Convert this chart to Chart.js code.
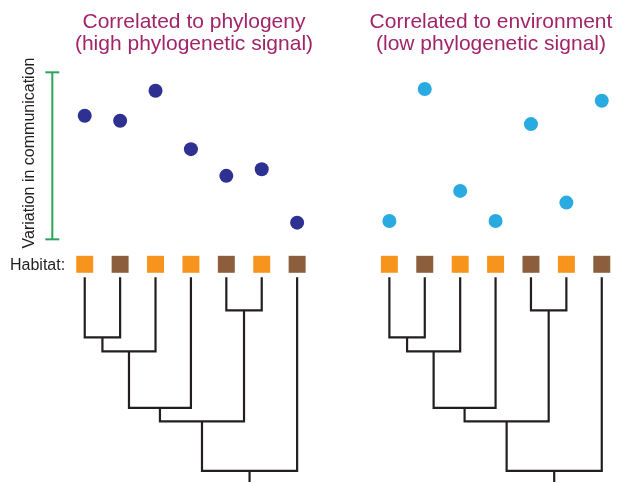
<!DOCTYPE html>
<html>
<head>
<meta charset="utf-8">
<script src="https://cdn.jsdelivr.net/npm/chart.js@4"></script>
<style>
  body { margin: 0; background: #fff; }
  #wrap { position: relative; width: 620px; height: 482px; font-family: 'Liberation Sans', Arial, sans-serif; }
  #wrap canvas { position: absolute; left: 0; top: 0; }
  .title { position: absolute; top: 10px; width: 300px; text-align: center; font-size: 21px; line-height: 22px; color: #a12468; }
  .label { position: absolute; font-size: 16px; line-height: 16px; color: #231f20; white-space: nowrap; }
  #yLabel { left: 29px; top: 153px; transform: translate(-50%, -50%) rotate(-90deg); }
</style>
</head>
<body>
<div id="wrap">
  <canvas id="myChart" width="620" height="482"></canvas>
  <div class="title" style="left:44px">Correlated to phylogeny<br>(high phylogenetic signal)</div>
  <div class="title" style="left:341px">Correlated to environment<br>(low phylogenetic signal)</div>
  <div class="label" id="yLabel">Variation in communication</div>
  <div class="label" style="left:10px; top:257px">Habitat:</div>
</div>
<script>
// tips of the tree, left to right
const species = ['sp1', 'sp2', 'sp3', 'sp4', 'sp5', 'sp6', 'sp7'];
const habitat = ['A', 'B', 'A', 'A', 'B', 'A', 'B'];

// communication trait per species
const highSignal = [7.4, 7.1, 8.9, 5.4, 3.8, 4.2, 1.0];
const lowSignal = [1.1, 9.0, 2.9, 1.1, 6.9, 2.2, 8.3];
const communicationRange = [0, 10];

// internal nodes: children (tip index or node name) and depth below the tips
const nodeNames = ['n1', 'n2', 'n3', 'n4', 'n5', 'root'];
const nodeChildren = [[0, 1], ['n1', 2], ['n2', 3], [4, 5], ['n3', 'n4'], ['n5', 6]];
const nodeDepth = [6.0, 7.4, 13.05, 3.3, 14.4, 19.35];
const rootStemEnd = 21;

// layout / styles
const habitatColors = { A: '#f7941d', B: '#8c5e3c' };
const panels = [
  { offset: 0, values: highSignal, color: '#2e3192' },
  { offset: 8.606, values: lowSignal, color: '#29abe2' }
];
const habitatRow = -1.3;
const rangeBarX = -0.916;
const treeColor = '#231f20';

// node positions from the topology
const nodeX = {};
const nodeD = {};
function childX(c) { return typeof c === 'number' ? c : nodeX[c]; }
function childD(c) { return typeof c === 'number' ? 0 : nodeD[c]; }
nodeNames.forEach((name, i) => {
  const [a, b] = nodeChildren[i];
  nodeX[name] = (childX(a) + childX(b)) / 2;
  nodeD[name] = nodeDepth[i];
});

const datasets = [];

panels.forEach(panel => {
  const off = panel.offset;

  // trait values
  datasets.push({
    data: panel.values.map((v, i) => ({ x: i + off, y: v })),
    yAxisID: 'y',
    pointRadius: 7,
    pointBorderWidth: 0,
    pointBackgroundColor: panel.color,
    borderColor: panel.color
  });

  // habitat squares
  datasets.push({
    data: species.map((s, i) => ({ x: i + off, y: habitatRow })),
    yAxisID: 'tree',
    pointStyle: 'rect',
    pointRadius: 12,
    pointBorderWidth: 0,
    pointBackgroundColor: habitat.map(h => habitatColors[h])
  });

  // tree branches
  nodeNames.forEach((name, i) => {
    const [a, b] = nodeChildren[i];
    const d = nodeD[name];
    datasets.push({
      data: [
        { x: childX(a) + off, y: childD(a) },
        { x: childX(a) + off, y: d },
        { x: childX(b) + off, y: d },
        { x: childX(b) + off, y: childD(b) }
      ],
      yAxisID: 'tree',
      showLine: true,
      borderColor: treeColor,
      borderWidth: 2.2,
      borderJoinStyle: 'miter',
      pointRadius: 0
    });
  });

  datasets.push({
    data: [
      { x: nodeX.root + off, y: nodeD.root },
      { x: nodeX.root + off, y: rootStemEnd }
    ],
    yAxisID: 'tree',
    showLine: true,
    borderColor: treeColor,
    borderWidth: 2.2,
    pointRadius: 0
  });
});

// range bar for communication variation
datasets.push({
  data: communicationRange.map(v => ({ x: rangeBarX, y: v })),
  yAxisID: 'y',
  showLine: true,
  borderColor: '#2ba55c',
  borderWidth: 2,
  pointStyle: 'line',
  pointRadius: 7,
  pointBorderWidth: 2,
  pointBorderColor: '#2ba55c'
});

new Chart(document.getElementById('myChart'), {
  type: 'scatter',
  data: { datasets: datasets },
  options: {
    responsive: false,
    animation: false,
    events: [],
    devicePixelRatio: 1,
    layout: { padding: 0, autoPadding: false },
    plugins: {
      legend: { display: false },
      tooltip: { enabled: false }
    },
    scales: {
      x: { type: 'linear', display: false, min: -2.3935, max: 15.121 },
      y: { type: 'linear', display: false, min: -14.53, max: 14.33 },
      tree: { type: 'linear', axis: 'y', display: false, reverse: true, min: -27.73, max: 20.47 }
    }
  }
});
</script>
</body>
</html>
